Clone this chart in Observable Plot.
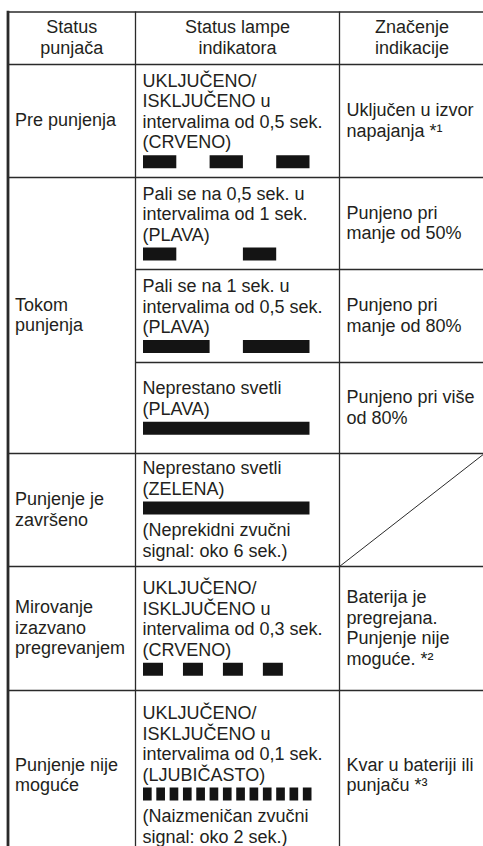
<!DOCTYPE html>
<html>
<head>
<meta charset="utf-8">
<script src="https://cdn.jsdelivr.net/npm/d3@7"></script>
<script src="https://cdn.jsdelivr.net/npm/@observablehq/plot@0.6"></script>
<style>
  html, body { margin: 0; padding: 0; background: #fff; }
  #chart svg { display: block; }
</style>
</head>
<body>
<div id="chart"></div>
<script>
// ---------------- data ----------------
const headers = [
  ["Status", "punjača"],
  ["Status lampe", "indikatora"],
  ["Značenje", "indikacije"]
];
const chargerStatus = [
  ["Pre punjenja"],
  ["Tokom", "punjenja"],
  ["Punjenje je", "završeno"],
  ["Mirovanje", "izazvano", "pregrevanjem"],
  ["Punjenje nije", "moguće"]
];
const lampRowsPerStatus = [1, 3, 1, 1, 1];
const lampDescription = [
  ["UKLJUČENO/", "ISKLJUČENO u", "intervalima od 0,5 sek.", "(CRVENO)"],
  ["Pali se na 0,5 sek. u", "intervalima od 1 sek.", "(PLAVA)"],
  ["Pali se na 1 sek. u", "intervalima od 0,5 sek.", "(PLAVA)"],
  ["Neprestano svetli", "(PLAVA)"],
  ["Neprestano svetli", "(ZELENA)"],
  ["UKLJUČENO/", "ISKLJUČENO u", "intervalima od 0,3 sek.", "(CRVENO)"],
  ["UKLJUČENO/", "ISKLJUČENO u", "intervalima od 0,1 sek.", "(LJUBIČASTO)"]
];
const soundNote = [
  [], [], [], [],
  ["(Neprekidni zvučni", "signal: oko 6 sek.)"],
  [],
  ["(Naizmeničan zvučni", "signal: oko 2 sek.)"]
];
// lamp "on" intervals, in seconds
const lampOnStart = [
  [0, 1, 2],
  [0, 1.5],
  [0, 1.5],
  [0],
  [0],
  [0, 0.6, 1.2, 1.8],
  [0, 0.2, 0.4, 0.6, 0.8, 1.0, 1.2, 1.4, 1.6, 1.8, 2.0, 2.2, 2.4]
];
const lampOnEnd = [
  [0.5, 1.5, 2.5],
  [0.5, 2],
  [1, 2.5],
  [2.5],
  [2.5],
  [0.3, 0.9, 1.5, 2.1],
  [0.13, 0.33, 0.53, 0.73, 0.93, 1.13, 1.33, 1.53, 1.73, 1.93, 2.13, 2.33, 2.53]
];
const meaning = [
  ["Uključen u izvor", "napajanja *¹"],
  ["Punjeno pri", "manje od 50%"],
  ["Punjeno pri", "manje od 80%"],
  ["Punjeno pri više", "od 80%"],
  [],
  ["Baterija je", "pregrejana.", "Punjenje nije", "moguće. *²"],
  ["Kvar u bateriji ili", "punjaču *³"]
];

// ---------------- layout ----------------
const W = 483, H = 846;
const colX = [7.5, 135, 339, 484];
const rowY = [11.5, 64, 177, 269, 362, 453, 566, 690, 860];
const inset = 7;
const lineBox = 20.5, baselineInBox = 15.5;
const barBox = 21, barTop = 2.5, barHeight = 13, lastBarBox = 17.5;
const lampTime = [0, 2.5], lampPx = [143, 309.5];
const fontFamily = "'Liberation Sans', Arial, Helvetica, sans-serif";
const ink = "#231f20";
const lineInk = "#2a2a2a";

const toX = d3.scaleLinear().domain(lampPx).range(lampTime); // page px -> seconds

const centerTexts = [], leftTexts = [], bars = [];
function placeLines(target, lines, xpx, top) {
  lines.forEach((s, i) => target.push({x: toX(xpx), y: top + i * lineBox + baselineInBox, text: s}));
}

// header
headers.forEach((h, c) => {
  const top = (rowY[0] + rowY[1]) / 2 - h.length * lineBox / 2;
  placeLines(centerTexts, h, (colX[c] + colX[c + 1]) / 2, top);
});

// column 1: charger status, vertically centred over its lamp rows
const groupBounds = [];
{
  let r = 1;
  chargerStatus.forEach((lines, k) => {
    const y0 = rowY[r], y1 = rowY[r + lampRowsPerStatus[k]];
    groupBounds.push([r, r + lampRowsPerStatus[k]]);
    placeLines(leftTexts, lines, colX[0] + inset, (y0 + y1) / 2 - lines.length * lineBox / 2);
    r += lampRowsPerStatus[k];
  });
}

// column 2: lamp description + blink pattern + sound note
lampDescription.forEach((lines, i) => {
  const items = [...lines.map(s => ({s})), {bar: true}, ...soundNote[i].map(s => ({s}))];
  const h = items.reduce((a, it, j) => a + (it.s !== undefined ? lineBox : (j === items.length - 1 ? lastBarBox : barBox)), 0);
  let y = (rowY[i + 1] + rowY[i + 2]) / 2 - h / 2;
  items.forEach(it => {
    if (it.s !== undefined) {
      leftTexts.push({x: toX(colX[1] + inset), y: y + baselineInBox, text: it.s});
      y += lineBox;
    } else {
      lampOnStart[i].forEach((t0, k) => bars.push({t0, t1: lampOnEnd[i][k], y0: y + barTop, y1: y + barTop + barHeight}));
      y += barBox;
    }
  });
});

// column 3: meaning
const diagonals = [];
meaning.forEach((lines, i) => {
  const y0 = rowY[i + 1], y1 = rowY[i + 2];
  if (lines.length === 0) {
    diagonals.push({x1: toX(colX[2]), y1: y1, x2: toX(colX[3]), y2: y0});
    return;
  }
  placeLines(leftTexts, lines, colX[2] + inset, (y0 + y1) / 2 - lines.length * lineBox / 2);
});

// grid lines
const hLines = [
  {y: rowY[0], x1: toX(colX[0]), x2: toX(colX[3])},
  {y: rowY[1], x1: toX(colX[0]), x2: toX(colX[3])}
];
groupBounds.forEach(([a, b]) => {
  for (let r = a + 1; r < b; r++) hLines.push({y: rowY[r], x1: toX(colX[1]), x2: toX(colX[3])});
  if (b < rowY.length - 1) hLines.push({y: rowY[b], x1: toX(colX[0]), x2: toX(colX[3])});
});
const vLines = [
  {x: toX(colX[1]), y1: rowY[0], y2: H},
  {x: toX(colX[2]), y1: rowY[0], y2: H}
];
const borderLines = [{x: toX(colX[0]), y1: rowY[0] - 0.7, y2: H}];

const chart = Plot.plot({
  width: W,
  height: H,
  margin: 0,
  x: {type: "linear", domain: lampTime, range: lampPx, axis: null},
  y: {type: "linear", domain: [0, H], range: [0, H], axis: null},
  style: {background: "#fff"},
  marks: [
    Plot.rect(bars, {x1: "t0", x2: "t1", y1: "y0", y2: "y1", fill: "#141414"}),
    Plot.ruleY(hLines, {y: "y", x1: "x1", x2: "x2", stroke: lineInk, strokeWidth: 1.3}),
    Plot.ruleX(vLines, {x: "x", y1: "y1", y2: "y2", stroke: lineInk, strokeWidth: 1.3}),
    Plot.ruleX(borderLines, {x: "x", y1: "y1", y2: "y2", stroke: lineInk, strokeWidth: 2.8}),
    Plot.link(diagonals, {x1: "x1", y1: "y1", x2: "x2", y2: "y2", stroke: lineInk, strokeWidth: 1}),
    Plot.text(centerTexts, {x: "x", y: "y", text: "text", textAnchor: "middle", lineAnchor: "bottom",
      fontSize: 18, fontFamily, fill: ink}),
    Plot.text(leftTexts, {x: "x", y: "y", text: "text", textAnchor: "start", lineAnchor: "bottom",
      fontSize: 18, fontFamily, fill: ink})
  ]
});
document.getElementById("chart").appendChild(chart);
</script>
</body>
</html>
